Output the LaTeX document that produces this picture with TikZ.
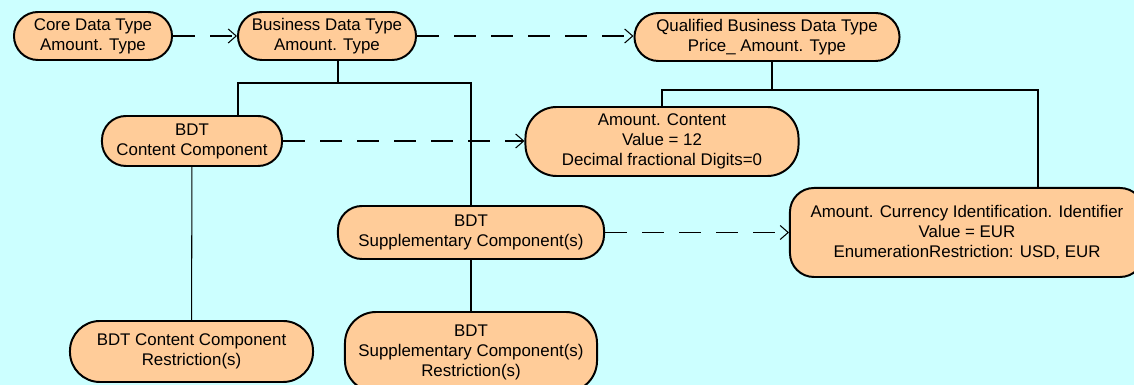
\documentclass[tikz,border=0pt]{standalone}
\usepackage{fontspec}
\setmainfont{Liberation Sans}
\usetikzlibrary{arrows.meta}
\definecolor{bgcyan}{HTML}{CCFFFF}
\definecolor{peach}{HTML}{FFCC99}
\begin{document}
\begin{tikzpicture}[x=0.025cm,y=-0.025cm]
        \tikzstyle{every node}=[font=\fontsize{12}{14.2}\selectfont]
        \tikzstyle{entity}=[draw,line width=1.4pt,fill=peach,rounded corners=0.6cm,align=center,inner sep=0pt]
        \tikzstyle{link}=[line width=0.75pt]
        \tikzstyle{derive}=[link,dash pattern=on 0.55cm off 0.375cm,-{Straight Barb[length=0.2cm,width=0.35cm]}]
        \fill[bgcyan] (0,0) rectangle (1134,385);
        \useasboundingbox (0,0) rectangle (1134,385);

        \node[entity,minimum width=3.95cm,minimum height=1.2cm] (cdt) at (93,36) {Core Data Type\\Amount. Type};
        \node[entity,minimum width=4.45cm,minimum height=1.2cm] (bdt) at (327,36) {Business Data Type\\Amount. Type};
        \node[entity,minimum width=6.625cm,minimum height=1.2cm] (qbdt) at (767,37) {Qualified Business Data Type\\Price\_ Amount. Type};
        \node[entity,minimum width=4.5cm,minimum height=1.25cm] (content) at (192,141) {BDT\\Content Component};
        \node[entity,minimum width=6.825cm,minimum height=1.725cm,rounded corners=0.78cm] (amount) at (662,141.5) {Amount. Content\\Value = 12\\Decimal fractional Digits=0};
        \node[entity,minimum width=6.65cm,minimum height=1.325cm] (supp) at (471,232.5) {BDT\\Supplementary Component(s)};
        \node[entity,minimum width=8.85cm,minimum height=2.225cm] (currency) at (967,232.5) {Amount. Currency Identification. Identifier\\Value = EUR\\EnumerationRestriction: USD, EUR};
        \node[entity,minimum width=6.075cm,minimum height=1.525cm,rounded corners=0.75cm] (contentres) at (191.5,351.5) {BDT Content Component\\Restriction(s)};
        \node[entity,minimum width=6.3cm,minimum height=2cm,rounded corners=0.78cm] (suppres) at (471,352) {BDT\\Supplementary Component(s)\\Restriction(s)};

        % Draw the derivations
        \draw[derive] (cdt) -- (bdt);
        \draw[derive] (bdt) -- (qbdt.west |- bdt);
        \draw[derive] (content) -- (amount.west |- content);
        \draw[derive] (supp) -- (currency.west |- supp);

        \draw[link] ([xshift=0.275cm]bdt.south) -- ++(0,22) coordinate (bdtj);
        \draw[link] (bdtj) -| ([xshift=1.15cm]content.north);
        \draw[link] (bdtj) -| (supp.north);
        \draw[link] ([xshift=0.125cm]qbdt.south) -- ++(0,28) coordinate (qbdtj);
        \draw[link] (qbdtj) -| (amount.north);
        \draw[link] (qbdtj) -| ([xshift=1.775cm]currency.north);
        \draw[link] (content) -- (contentres);
        \draw[link] (supp) -- (suppres);
    \end{tikzpicture}
\end{document}
